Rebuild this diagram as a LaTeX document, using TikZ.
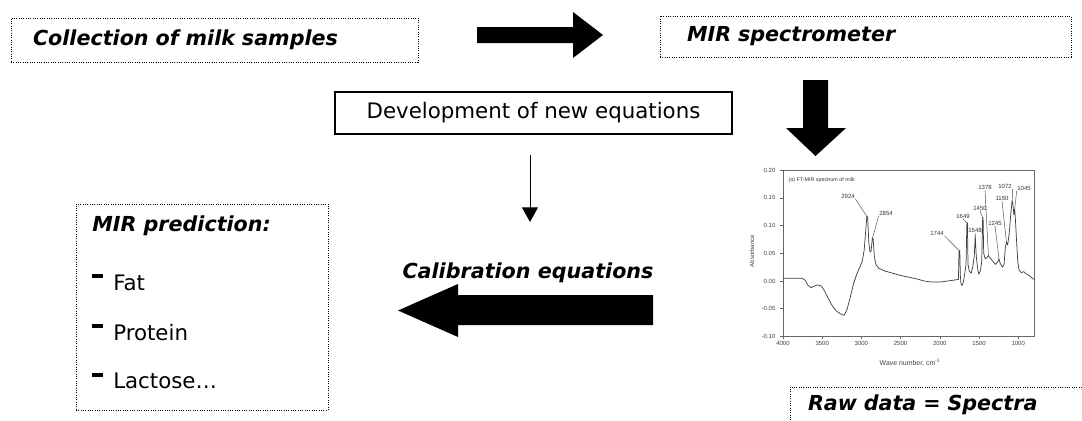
\documentclass[tikz,border=0pt]{standalone}
\usepackage{fontspec}
\setmainfont{DejaVu Sans}
\newfontfamily\plotfont{Liberation Sans}
\usetikzlibrary{arrows.meta}
\begin{document}
\begin{tikzpicture}[x=0.75pt,y=-0.75pt]
\useasboundingbox (0,0) rectangle (1082,421);
\tikzset{
  dotbox/.style={draw, densely dotted, line width=0.75pt, inner ysep=0pt},
  solidbox/.style={draw, line width=1pt, inner sep=0pt},
  bi/.style={font=\fontsize{15.5}{18}\selectfont\bfseries\itshape},
  rg/.style={font=\fontsize{16}{19}\selectfont},
  blockarrow/.style={fill=black},
  thinarrow/.style={line width=0.75pt, -{Triangle[width=12pt,length=11pt]}},
  axisline/.style={draw=black!60, line width=0.4pt},
  curve/.style={draw=black!75, line width=0.55pt, line join=round},
  lead/.style={draw=black!70, line width=0.35pt},
  ticklab/.style={font=\plotfont\fontsize{4.5}{5}\selectfont, text=black!75, inner sep=0.5pt},
  peaklab/.style={font=\plotfont\fontsize{4.5}{5}\selectfont, text=black!80, inner sep=0.3pt},
}
% boxes
\node[dotbox, bi, minimum width=305.25pt, minimum height=33pt, inner xsep=16.5pt,
      text width=272.25pt, align=left] (coll) at (214.5,40) {Collection of milk samples};
\node[dotbox, bi, minimum width=308.25pt, minimum height=30.75pt, inner xsep=20.25pt,
      text width=267.75pt, align=left] (mir) at (865.5,36.5) {MIR spectrometer};
\node[solidbox, rg, minimum width=297.75pt, minimum height=31.5pt] (dev) at (533.5,113) {Development of new equations};
\node[dotbox, minimum width=189pt, minimum height=154.5pt] (pred) at (202,307) {};
\node[dotbox, bi, minimum width=232.5pt, minimum height=27pt, inner xsep=13.5pt,
      text width=205.5pt, align=left] (raw) at (945,405) {Raw data = Spectra};

% prediction box contents
\node[bi, anchor=base west, inner sep=0pt] (predt) at (92,231) {MIR prediction:};
\node[rg, anchor=base west, inner sep=0pt] (fat) at (113,290) {Fat};
\node[rg, anchor=base west, inner sep=0pt] (prot) at (113,340) {Protein};
\node[rg, anchor=base west, inner sep=0pt] (lact) at (113,388) {Lactose…};
\fill (92,273.5) rectangle (103,277.5);
\fill (92,323.5) rectangle (103,327.5);
\fill (92,372.5) rectangle (103,376.5);

% calibration label
\node[bi, anchor=base, inner sep=0pt] (calib) at (528,278) {Calibration equations};

% thin arrow
\coordinate (t1) at (530,155);
\coordinate (t2) at (530,222);
\draw[thinarrow] (t1) -- (t2);

% block arrows
\fill[blockarrow] (477,27) -- (573,27) -- (573,12) -- (603,35) -- (573,58) -- (573,43) -- (477,43) -- cycle;
\fill[blockarrow] (653,295) -- (458,295) -- (458,284) -- (398,310.5) -- (458,337) -- (458,325) -- (653,325) -- cycle;
\fill[blockarrow] (803,80) -- (828,80) -- (828,128) -- (846,128) -- (815.5,156) -- (786,128) -- (803,128) -- cycle;

% spectrum plot
\node[ticklab, rotate=90] (absl) at (752,251) {Absorbance};
\node[ticklab, font=\plotfont\fontsize{5.2}{6}\selectfont] (wavel) at (910,363) {Wave number, cm\textsuperscript{-1}};
\node[peaklab, anchor=west, font=\plotfont\fontsize{4}{5}\selectfont] (title) at (788,180) {(a) FT-MIR spectrum of milk};
\begin{scope}[shift={(1096.6,281)}, x=-0.0588pt, y=415.5pt]
  \draw[axisline] (4000,-0.10) rectangle (800,0.20);
  \foreach \a/\l in {0.20/0.20,0.15/0.15,0.10/0.10,0.05/0.05,0.00/0.00,-0.05/-0.05,-0.10/-0.10}{
    \draw[axisline] (4000,\a) -- ++(-2pt,0);
    \node[ticklab, anchor=east] at ([xshift=-5pt]4000,\a) {\l};
  }
  \foreach \w in {4000,3500,3000,2500,2000,1500,1000}{
    \draw[axisline] (\w,-0.10) -- ++(0,-2pt);
    \node[ticklab, anchor=north] at ([yshift=-3pt]\w,-0.10) {\w};
  }
  \draw[curve] plot coordinates {
    (4000,0.005) (3760,0.005) (3720,0.002) (3680,-0.008) (3640,-0.012) (3600,-0.009)
    (3560,-0.007) (3510,-0.009) (3470,-0.018) (3420,-0.032) (3370,-0.045) (3320,-0.054)
    (3270,-0.059) (3220,-0.062) (3180,-0.05) (3140,-0.028) (3100,-0.005) (3060,0.012)
    (3020,0.025) (2990,0.035) (2965,0.055) (2945,0.09) (2930,0.117) (2920,0.115)
    (2905,0.07) (2890,0.052) (2875,0.055) (2860,0.078) (2850,0.075) (2835,0.045)
    (2815,0.03) (2780,0.023) (2700,0.018) (2600,0.014) (2500,0.01) (2400,0.007)
    (2300,0.004) (2200,0.0) (2100,-0.002) (2000,-0.002) (1900,0.0) (1800,0.002)
    (1762,0.003) (1755,0.052) (1745,0.055) (1738,0.01) (1730,-0.005) (1715,-0.008)
    (1700,-0.002) (1680,0.015) (1665,0.03) (1655,0.1) (1648,0.105) (1640,0.03)
    (1625,0.018) (1600,0.014) (1580,0.025) (1560,0.045) (1548,0.082) (1535,0.045)
    (1515,0.02) (1500,0.012) (1480,0.02) (1465,0.035) (1455,0.11) (1448,0.115)
    (1440,0.05) (1420,0.04) (1400,0.042) (1380,0.046) (1360,0.042) (1320,0.035)
    (1290,0.03) (1260,0.035) (1245,0.04) (1230,0.032) (1200,0.025) (1180,0.03)
    (1165,0.06) (1150,0.07) (1135,0.065) (1115,0.085) (1095,0.12) (1078,0.145)
    (1068,0.14) (1055,0.12) (1045,0.13) (1035,0.11) (1020,0.07) (1005,0.035)
    (990,0.02) (960,0.015) (930,0.017) (900,0.013) (860,0.01) (820,0.005) (800,0.003)};
  \coordinate (p2924) at (2928,0.116);
  \coordinate (p2854) at (2858,0.077);
  \coordinate (p1744) at (1748,0.054);
  \coordinate (p1649) at (1649,0.104);
  \coordinate (p1548) at (1548,0.081);
  \coordinate (p1450) at (1451,0.113);
  \coordinate (p1378) at (1380,0.046);
  \coordinate (p1245) at (1245,0.04);
  \coordinate (p1150) at (1150,0.07);
  \coordinate (p1072) at (1076,0.144);
  \coordinate (p1045) at (1045,0.129);
\end{scope}
\node[peaklab] (l2924) at (848,196) {2924};
\node[peaklab] (l2854) at (886,213) {2854};
\node[peaklab] (l1744) at (937,233) {1744};
\node[peaklab] (l1649) at (963,216) {1649};
\node[peaklab] (l1548) at (975,230) {1548};
\node[peaklab] (l1450) at (980,208) {1450};
\node[peaklab] (l1378) at (985,187) {1378};
\node[peaklab] (l1245) at (995,223) {1245};
\node[peaklab] (l1150) at (1002,198) {1150};
\node[peaklab] (l1072) at (1005,186) {1072};
\node[peaklab] (l1045) at (1024,188) {1045};
\draw[lead] (l2924.south east) -- (p2924);
\draw[lead] (l2854.south west) -- (p2854);
\draw[lead] (l1744.south east) -- (p1744);
\draw[lead] (l1649.south) -- (p1649);
\draw[lead] (l1548.south) -- (p1548);
\draw[lead] (l1450.south) -- (p1450);
\draw[lead] (l1378.south) -- (p1378);
\draw[lead] (l1245.south) -- (p1245);
\draw[lead] (l1150.south) -- (p1150);
\draw[lead] (l1072.south east) -- (p1072);
\draw[lead] (l1045.south west) -- (p1045);
\end{tikzpicture}
\end{document}
